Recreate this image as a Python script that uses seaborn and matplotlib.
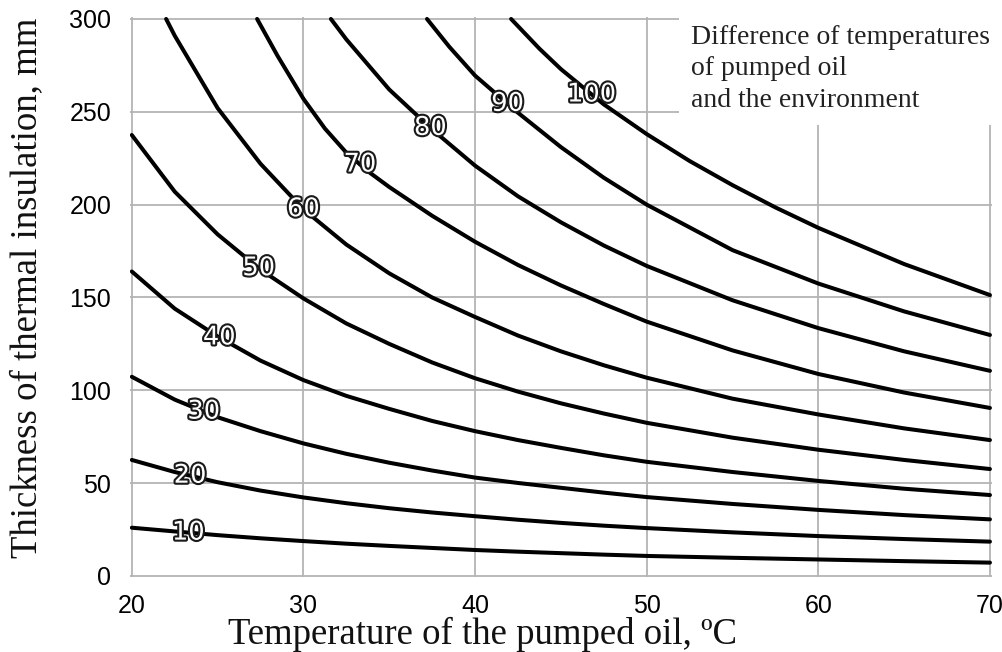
import numpy as np
import pandas as pd
import matplotlib
matplotlib.use("Agg")
import matplotlib.pyplot as plt
import matplotlib.patheffects as pe
from matplotlib.patches import Rectangle
import seaborn as sns

# 그림에서 읽은 값 (온도차별 단열 두께, mm)
x_full = [20, 22.5, 25, 27.5, 30, 32.5, 35, 37.5, 40, 42.5, 45, 47.5, 50, 55, 60, 65, 70]
thick_10 = [26, 24, 22, 20.3, 18.8, 17.4, 16.2, 15.1, 14, 13.1, 12.3, 11.5, 10.8, 9.8, 8.9, 8, 7.2]
thick_20 = [62.5, 56, 50.5, 46, 42.3, 39.2, 36.5, 34.2, 32.2, 30.3, 28.6, 27.1, 25.8, 23.5, 21.5, 19.9, 18.5]
thick_30 = [107.3, 95, 85.5, 78, 71.4, 65.8, 61, 56.8, 53, 50.1, 47.5, 44.9, 42.5, 38.8, 35.6, 32.8, 30.5]
thick_40 = [164, 144, 129, 116, 105.5, 97, 90, 83.5, 78, 73.2, 69, 65, 61.5, 56, 51.2, 47, 43.6]
thick_50 = [237.5, 207, 184, 165, 149.5, 136, 125, 115, 106.5, 99.3, 93, 87.5, 82.5, 74.5, 68, 62.5, 57.6]

x_60 = [22, 22.5, 25, 27.5, 30, 32.5, 35, 37.5, 40, 42.5, 45, 47.5, 50, 55, 60, 65, 70]
thick_60 = [300, 291, 252, 222, 197.5, 178.5, 163, 150, 139.5, 129.5, 121, 113.5, 106.8, 95.5, 87, 79.5, 73.2]
x_70 = [27.3, 28.5, 30, 31.25, 32.5, 33.75, 35, 37.5, 40, 42.5, 45, 47.5, 50, 55, 60, 65, 70]
thick_70 = [300, 280, 257, 241, 228, 218, 209.5, 194, 180, 167.5, 156.5, 146.5, 137, 121.5, 108.8, 98.8, 90.5]
x_80 = [31.6, 32.5, 35, 37.5, 40, 42.5, 45, 47.5, 50, 55, 60, 65, 70]
thick_80 = [300, 289, 262, 240.5, 221, 204.5, 190.5, 178, 167, 148.5, 133.5, 121, 110.5]
x_90 = [37.2, 38.5, 40, 42.5, 45, 47.5, 50, 55, 60, 65, 70]
thick_90 = [300, 285, 269.5, 249.5, 231, 214.5, 200, 175.5, 157.5, 142.5, 129.8]
x_100 = [42.1, 43.75, 45, 47.5, 50, 52.5, 55, 57.5, 60, 65, 70]
thick_100 = [300, 284, 273, 254, 238, 223.5, 210.5, 198.5, 187.5, 168, 151.3]

delta_t = [10, 20, 30, 40, 50, 60, 70, 80, 90, 100]
curve_x = [x_full, x_full, x_full, x_full, x_full, x_60, x_70, x_80, x_90, x_100]
curve_y = [thick_10, thick_20, thick_30, thick_40, thick_50,
           thick_60, thick_70, thick_80, thick_90, thick_100]
# 곡선 위 라벨의 x 위치
label_x = [23.3, 23.4, 24.2, 25.1, 27.4, 30.0, 33.3, 37.4, 41.9, 46.8]

rows = []
for dt, xs, ys in zip(delta_t, curve_x, curve_y):
    for xv, yv in zip(xs, ys):
        rows.append({"temp": xv, "thick": yv, "dt": str(dt)})
df = pd.DataFrame(rows)

sns.set_theme(style="white")
plt.rcParams["font.family"] = ["Liberation Sans", "DejaVu Sans"]

fig = plt.figure(figsize=(10.03, 6.52), dpi=100)
ax = fig.add_axes([0.1297, 0.1143, 0.859, 0.8589])

grid_c = "#b4b4b4"
sns.lineplot(data=df, x="temp", y="thick", hue="dt", palette=["black"] * 10,
             estimator=None, sort=False, linewidth=2.9, legend=False, ax=ax)

ax.set_xlim(19.9, 70.1)
ax.set_ylim(-0.8, 300.8)
ax.set_xticks([20, 30, 40, 50, 60, 70])
ax.set_yticks([0, 50, 100, 150, 200, 250, 300])
ax.grid(True, color=grid_c, linewidth=1.3)
for s in ax.spines.values():
    s.set_visible(False)
ax.tick_params(length=6.5, width=1.3, color=grid_c, labelsize=18, pad=7,
               labelcolor="black")
ax.tick_params(axis="x", pad=5.5)

# 범례 영역 (흰 박스)
ax.add_patch(Rectangle((51.9, 243), 19, 60, facecolor="white",
                       edgecolor="none", zorder=1.5, clip_on=False))
ax.text(52.6, 297, "Difference of temperatures\nof pumped oil\nand the environment",
        family="Liberation Serif", fontsize=20, va="top", ha="left",
        linespacing=1.36, color="#222222", zorder=3)

# 곡선 라벨
for dt, lx, xs, ys in zip(delta_t, label_x, curve_x, curve_y):
    ly = np.interp(lx, xs, ys)
    ax.text(lx, ly, str(dt), family="DejaVu Sans", fontsize=18.5, color="white",
            ha="center", va="center", zorder=5,
            path_effects=[pe.withStroke(linewidth=3, foreground="#1a1a1a")])

ax.set_xlabel("Temperature of the pumped oil, ºC", family="Liberation Serif",
              fontsize=26.5, color="#111111", va="baseline")
ax.set_ylabel("Thickness of thermal insulation, mm", family="Liberation Serif",
              fontsize=26.5, color="#111111")
ax.xaxis.set_label_coords(0.409, -0.119)
ax.yaxis.set_label_coords(-0.1, 0.517)

fig.savefig("out.png", dpi=100)
